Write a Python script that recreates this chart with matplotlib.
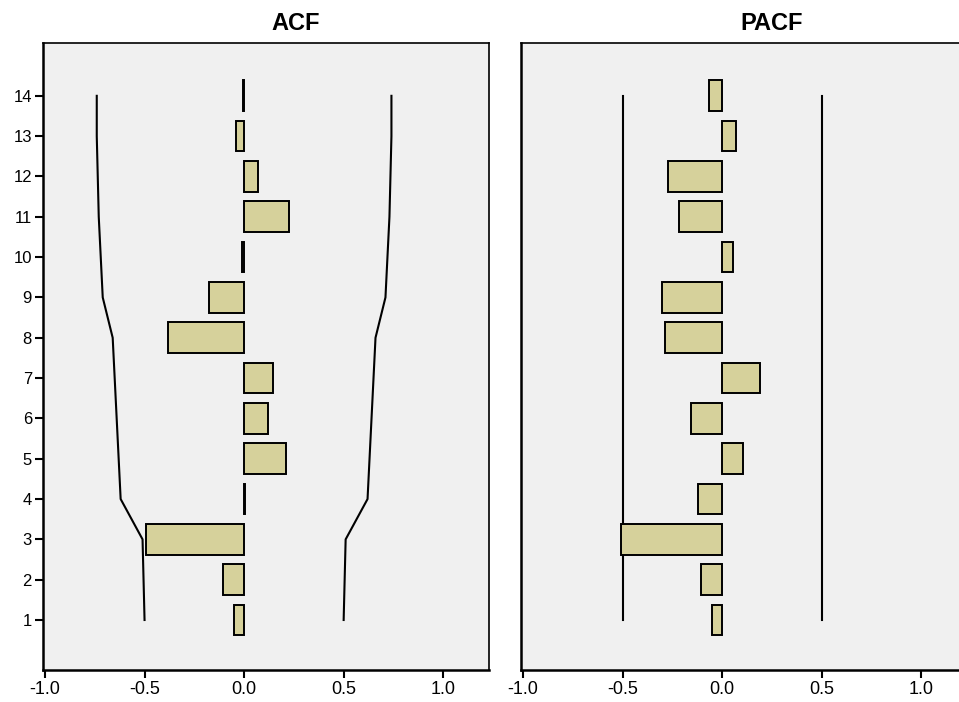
import numpy as np
import matplotlib
matplotlib.use("Agg")
import matplotlib.pyplot as plt

plt.rcParams['font.family'] = ['Liberation Sans', 'DejaVu Sans']

lags = np.arange(1, 15)

acf = [-0.05, -0.105, -0.495, 0.006, 0.21, 0.12, 0.145, -0.38, -0.175, -0.01, 0.225, 0.07, -0.04, -0.005]
acf_limit = [0.50, 0.505, 0.51, 0.62, 0.63, 0.64, 0.65, 0.66, 0.71, 0.72, 0.73, 0.735, 0.74, 0.74]

pacf = [-0.05, -0.105, -0.51, -0.12, 0.105, -0.155, 0.19, -0.285, -0.30, 0.053, -0.217, -0.27, 0.07, -0.065]
pacf_limit = [0.50] * 14

xticks = [-1.0, -0.5, 0.0, 0.5, 1.0]

bar_color = "#d6d19b"
bg_color = "#f0f0f0"

fig = plt.figure(figsize=(9.59, 7.02), dpi=100)

W, H = 959, 702
def px_axes(left, top, right, bottom):
    return fig.add_axes([left / W, 1 - bottom / H, (right - left) / W, (bottom - top) / H])

ax1 = px_axes(43, 43, 489, 670)
ax2 = px_axes(521, 43, 967, 670)

def draw(ax, vals, limit, show_y):
    ax.set_facecolor(bg_color)
    ax.barh(lags, vals, height=0.76, color=bar_color, edgecolor="black", linewidth=1.4, zorder=3)
    lim = np.array(limit)
    ax.plot(lim, lags, color="black", lw=1.5, zorder=2)
    ax.plot(-lim, lags, color="black", lw=1.5, zorder=2)
    ax.set_xlim(-1.01, 1.23)
    ax.set_ylim(-0.24, 15.31)
    ax.set_xticks(xticks)
    ax.set_xticklabels([f"{t:.1f}" for t in xticks], fontsize=13)
    ax.tick_params(axis="x", length=6, width=1.5, pad=2)
    if show_y:
        ax.set_yticks(lags)
        ax.set_yticklabels([str(l) for l in lags], fontsize=12)
        ax.tick_params(axis="y", length=6, width=1.5, pad=2)
    else:
        ax.set_yticks([])
    for s in ax.spines.values():
        s.set_linewidth(1.2)
    ax.spines["left"].set_linewidth(1.8)
    ax.spines["bottom"].set_linewidth(1.8)

draw(ax1, acf, acf_limit, True)
draw(ax2, pacf, pacf_limit, False)

fig.text(296 / W, 1 - 24 / H, "ACF", ha="center", va="center", fontsize=17, fontweight="bold")
fig.text(772 / W, 1 - 24 / H, "PACF", ha="center", va="center", fontsize=17, fontweight="bold")

fig.savefig("out.png", dpi=100, facecolor="white")
